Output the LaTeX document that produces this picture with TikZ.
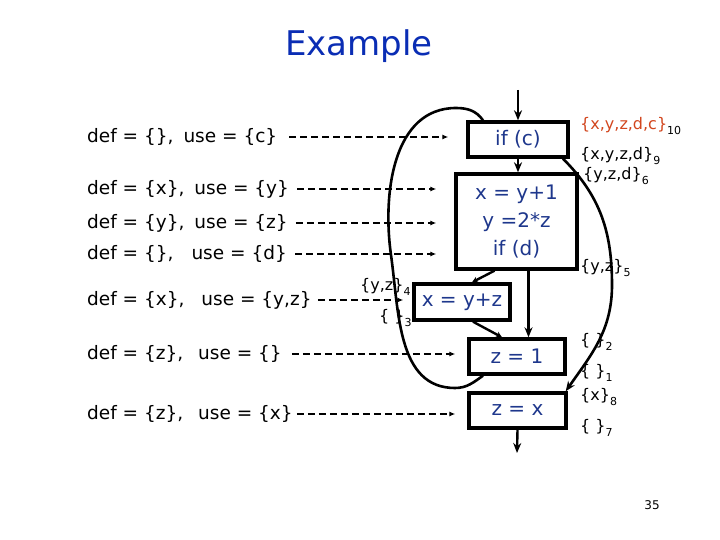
\documentclass[tikz,border=0pt]{standalone}
\usepackage{fontspec}
\setmainfont{DejaVu Sans}
\usetikzlibrary{arrows.meta}
\definecolor{titleblue}{RGB}{10,45,180}
\definecolor{boxblue}{RGB}{30,55,140}
\definecolor{setred}{RGB}{210,70,30}
\newcommand{\lsub}[1]{\raisebox{-0.5ex}{\fontsize{11}{11}\selectfont #1}}
\begin{document}
\begin{tikzpicture}[x=1pt,y=-1pt,
  stmt/.style={draw=black, line width=3.4pt, text=boxblue, inner sep=0pt,
    font=\fontsize{20}{28}\selectfont, align=center},
  deftext/.style={anchor=west, inner sep=0pt, font=\fontsize{18.5}{22}\selectfont},
  setlbl/.style={anchor=west, inner sep=0pt, font=\fontsize{16}{18}\selectfont},
  flow/.style={line width=2.4pt, -{Stealth[length=10pt,width=8pt]}},
  smallflow/.style={line width=2.4pt, -{Stealth[length=6pt,width=6pt]}},
  dashedarrow/.style={line width=1.6pt, dash pattern=on 7pt off 4pt, -{Latex[length=6pt,width=5pt]}},
  loop/.style={line width=2.6pt}]
\useasboundingbox (0,0) rectangle (720,540);
\fill[white] (0,0) rectangle (720,540);

\node[text=titleblue, font=\fontsize{34}{40}\selectfont] (title) at (359,46) {Example};

% statement boxes
\node[stmt, minimum width=100pt, minimum height=35pt] (ifc) at (518,139.5) {if (c)};
\node[stmt, minimum width=121pt, minimum height=95pt] (blk) at (516.5,221.5) {x = y+1\\y =2*z\\if (d)};
\node[stmt, minimum width=96pt, minimum height=36pt] (xyz) at (462,302) {x = y+z};
\node[stmt, minimum width=96pt, minimum height=35pt] (z1) at (517,356.5) {z = 1};
\node[stmt, minimum width=97pt, minimum height=35pt] (zx) at (517.5,410.5) {z = x};

\coordinate (entry) at (518,90);
\coordinate (exit) at (517,453);

% control flow
\draw[flow] (entry) -- (ifc.north);
\draw[flow] (ifc.south) -- (ifc.south |- blk.north);
\draw[flow] ([xshift=12pt]blk.south) -- ([xshift=12pt]blk.south |- z1.north);
\draw[smallflow] ([xshift=-22pt]blk.south) -- ([xshift=10pt]xyz.north);
\draw[smallflow] ([xshift=11pt]xyz.south) -- ([xshift=-15pt]z1.north);
\draw[flow] (zx.south) -- (exit);
\draw[loop] ([xshift=-34pt]z1.south) to[out=-145,in=0] (455,388)
  to[out=180,in=-82] (391,255) to[out=98,in=180] (456,108)
  to[out=0,in=125] ([xshift=-35pt]ifc.north);
\draw[loop, -{Stealth[length=10pt,width=8pt]}] ([xshift=45pt]ifc.south)
  to[out=-45,in=90] (612,285) to[out=-90,in=55] ([xshift=-2pt]zx.north east);

% def/use texts
\node[deftext] (t1) at (87,137) {def = \{\},\hspace{10pt}use = \{c\}};
\node[deftext] (t2) at (87,189) {def = \{x\},\hspace{10pt}use = \{y\}};
\node[deftext] (t3) at (87,223) {def = \{y\},\hspace{10pt}use = \{z\}};
\node[deftext] (t4) at (87,254) {def = \{\},\hspace{18pt}use = \{d\}};
\node[deftext] (t5) at (87,300) {def = \{x\},\hspace{17pt}use = \{y,z\}};
\node[deftext] (t6) at (87,354) {def = \{z\},\hspace{15pt}use = \{\}};
\node[deftext] (t7) at (87,414) {def = \{z\},\hspace{15pt}use = \{x\}};

\draw[dashedarrow] ([xshift=12pt]t1.east) -- ([xshift=-18pt]ifc.west |- t1.east);
\draw[dashedarrow] ([xshift=8pt]t2.east) -- ([xshift=-18pt]blk.west |- t2.east);
\draw[dashedarrow] ([xshift=8pt]t3.east) -- ([xshift=-18pt]blk.west |- t3.east);
\draw[dashedarrow] ([xshift=8pt]t4.east) -- ([xshift=-18pt]blk.west |- t4.east);
\draw[dashedarrow] ([xshift=6pt]t5.east) -- ([xshift=-9pt]xyz.west |- t5.east);
\draw[dashedarrow] ([xshift=10pt]t6.east) -- ([xshift=-12pt]z1.west |- t6.east);
\draw[dashedarrow] ([xshift=4pt]t7.east) -- ([xshift=-12pt]zx.west |- t7.east);

% live sets
\node[setlbl] (s10) at (580,126) {\textcolor{setred}{\{x,y,z,d,c\}}\lsub{10}};
\node[setlbl] (s9) at (580,156) {\{x,y,z,d\}\lsub{9}};
\node[setlbl] (s6) at (583,176) {\{y,z,d\}\lsub{6}};
\node[setlbl] (s5) at (580,268) {\{y,z\}\lsub{5}};
\node[setlbl] (s4) at (360,287) {\{y,z\}\lsub{4}};
\node[setlbl] (s3) at (379,318) {\{ \}\lsub{3}};
\node[setlbl] (s2) at (580,342) {\{ \}\lsub{2}};
\node[setlbl] (s1) at (580,373) {\{ \}\lsub{1}};
\node[setlbl] (s8) at (580,397) {\{x\}\lsub{8}};
\node[setlbl] (s7) at (580,428) {\{ \}\lsub{7}};

\node[font=\fontsize{12}{14}\selectfont] (pg) at (652,505) {35};
\end{tikzpicture}
\end{document}
